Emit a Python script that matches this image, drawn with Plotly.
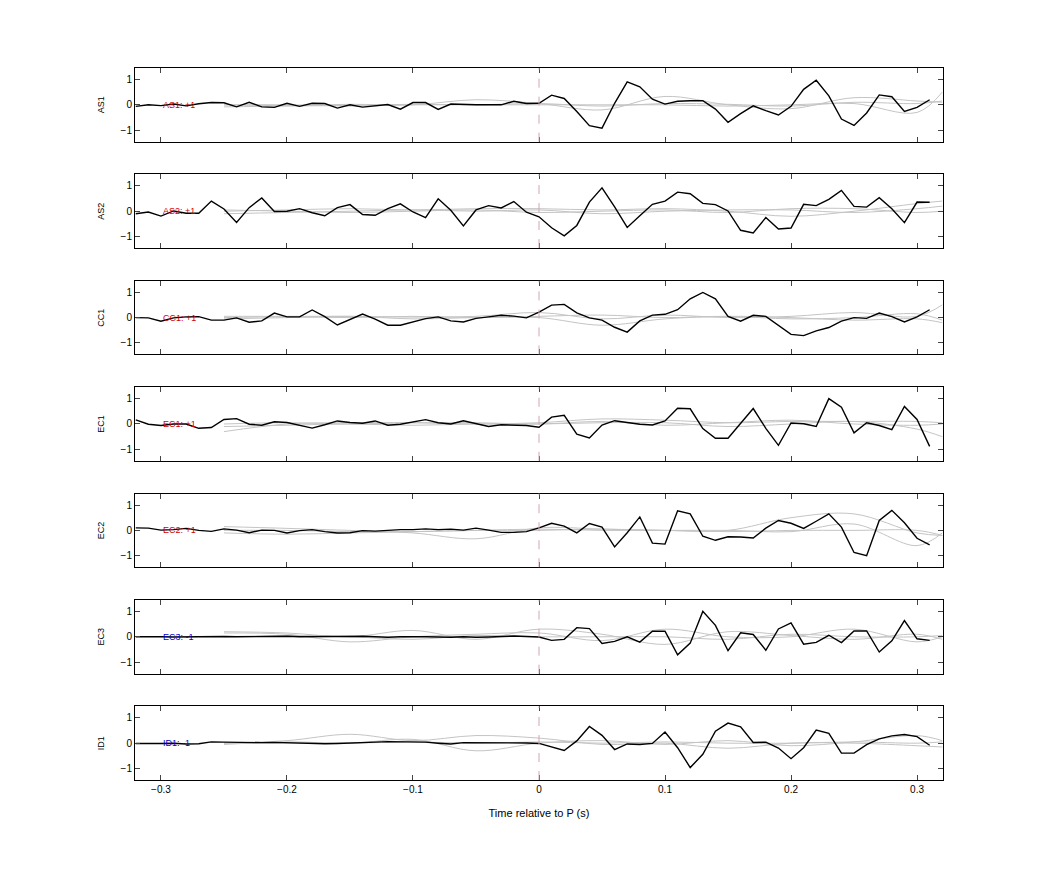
import numpy as np
import plotly.graph_objects as go
from plotly.subplots import make_subplots

t = [round(-0.32 + 0.01 * i, 2) for i in range(64)]
tg = [-0.25, -0.2, -0.15, -0.1, -0.05, 0, 0.05, 0.1, 0.15, 0.2, 0.25, 0.3, 0.32]

names = ["AS1", "AS2", "CC1", "EC1", "EC2", "EC3", "ID1"]
labels = ["AS1: +1", "AS2: +1", "CC1: +1", "EC1: +1", "EC2: +1", "EC3: -1", "ID1: -1"]
label_colors = ["#d00000", "#d00000", "#d00000", "#d00000", "#d00000", "#0000d0", "#0000d0"]

AS1 = [-0.06,0,-0.03,0.03,-0.04,0.04,0.09,0.08,-0.08,0.1,-0.08,-0.1,0.06,-0.06,0.06,0.05,
       -0.13,0,-0.09,-0.04,0.01,-0.17,0.09,0.09,-0.18,0.03,0.01,0,0,0,0.14,0.05,
       0.06,0.38,0.25,-0.26,-0.82,-0.92,0.06,0.9,0.71,0.22,0.03,0.14,0.16,0.16,-0.17,-0.69,
       -0.35,-0.04,-0.23,-0.4,-0.06,0.61,0.97,0.35,-0.56,-0.81,-0.32,0.39,0.32,-0.26,-0.1,0.2]
AS2 = [-0.1,-0.03,-0.19,0.01,-0.08,-0.08,0.4,0.09,-0.44,0.14,0.52,-0.01,0,0.1,-0.06,-0.18,
       0.14,0.26,-0.13,-0.16,0.1,0.29,-0.03,-0.25,0.49,0.04,-0.58,0.05,0.22,0.13,0.38,-0.04,
       -0.22,-0.65,-0.97,-0.56,0.36,0.92,0.17,-0.64,-0.18,0.27,0.4,0.75,0.69,0.31,0.26,0.01,
       -0.75,-0.86,-0.25,-0.7,-0.66,0.27,0.22,0.47,0.82,0.19,0.16,0.53,0.1,-0.45,0.36,0.35]
CC1 = [0,-0.01,-0.14,-0.01,0.03,0.04,-0.1,-0.1,-0.01,-0.18,-0.13,0.18,0.03,0.03,0.3,0.04,
       -0.29,-0.06,0.14,-0.06,-0.3,-0.3,-0.17,-0.04,0.03,-0.13,-0.17,-0.03,0.03,0.09,0.06,-0.01,
       0.22,0.49,0.52,0.19,-0.01,-0.1,-0.38,-0.57,-0.13,0.1,0.13,0.31,0.74,0.99,0.74,0.05,
       -0.14,0.09,0.05,-0.32,-0.66,-0.71,-0.52,-0.39,-0.14,0,-0.03,0.18,0.04,-0.17,0.03,0.31]
EC1 = [0.16,-0.01,-0.06,0,0,-0.17,-0.14,0.18,0.21,-0.01,-0.05,0.09,0.06,-0.06,-0.16,-0.03,
       0.12,0.06,0.03,0.12,-0.05,-0.01,0.09,0.17,0.05,0,0.13,0,-0.1,-0.03,-0.04,-0.06,
       -0.13,0.27,0.34,-0.4,-0.55,-0.04,0.13,0.05,-0.01,-0.04,0.12,0.62,0.6,-0.18,-0.56,-0.56,
       0.03,0.61,-0.17,-0.84,0.04,0.01,-0.1,1.0,0.66,-0.35,0.05,-0.06,-0.22,0.69,0.18,-0.88]
EC2 = [0.1,0.09,0.01,0.03,0.08,0,-0.04,0.06,0.01,-0.09,0.01,0,-0.1,-0.01,0.03,-0.05,
       -0.1,-0.09,-0.01,-0.03,0,0.03,0.03,0.06,0.03,0.05,0.01,0.09,0.01,-0.08,-0.08,-0.05,
       0.1,0.28,0.17,-0.1,0.27,0.13,-0.65,-0.09,0.53,-0.5,-0.54,0.77,0.65,-0.23,-0.39,-0.25,
       -0.26,-0.3,0.09,0.39,0.28,0.08,0.36,0.65,0.13,-0.87,-1.0,0.39,0.79,0.3,-0.31,-0.57]
EC3 = [0,0.01,0,-0.01,0,0.01,0.02,0.01,0,0.01,0.02,0.01,0.02,0,0.01,-0.01,
       0,0.01,0.02,0,-0.02,0,0.01,0,-0.01,-0.02,0,-0.02,-0.01,0.02,0.03,0.01,
       -0.01,-0.14,-0.1,0.36,0.32,-0.26,-0.18,0,-0.21,0.22,0.22,-0.71,-0.25,1.0,0.45,-0.55,
       0.16,0.09,-0.53,0.31,0.55,-0.29,-0.22,0.06,-0.23,0.23,0.23,-0.6,-0.16,0.64,-0.08,-0.14]
ID1 = [-0.01,-0.02,-0.01,0,-0.03,-0.02,0.05,0.04,0.03,0.03,0.02,0.03,0.02,0,-0.02,-0.02,
       -0.01,0,0.02,0.04,0.06,0.05,0.05,0.04,0,-0.03,0.02,0.02,0.01,0,0.01,0.01,
       -0.01,-0.16,-0.29,0.09,0.66,0.31,-0.25,-0.03,-0.05,-0.01,0.44,-0.18,-0.96,-0.44,0.47,0.79,
       0.64,0.03,0.04,-0.19,-0.61,-0.18,0.52,0.39,-0.39,-0.39,-0.06,0.17,0.29,0.34,0.26,-0.08]

AS1_grey = [[0,-0.03,0.02,0,0.2,0.05,-0.2,0.33,0.0,-0.15,0.28,0.15,0.1],
            [0,0,-0.05,0,0,0,0,0,-0.05,0,0.05,-0.3,0.5],
            [-0.08,-0.05,-0.02,0.02,0,0.05,-0.05,0.05,0.02,-0.05,0.1,0.05,0.15]]
AS2_grey = [[0,0.05,0.1,0.05,0.1,0.1,0.05,0.1,0,-0.2,0,0.3,0.4],
            [-0.1,-0.05,0,0.05,0,0.05,-0.1,0,0.05,0.05,-0.05,0.1,0.2],
            [0.05,0,-0.05,0,0.05,-0.05,0,0.05,-0.05,0.1,0.1,-0.05,0]]
CC1_grey = [[0.05,0.05,0.05,0.02,0.05,0.2,-0.05,0.1,0,0.05,0.2,0.05,0.5],
            [-0.05,0,0.05,-0.05,0,0,-0.3,-0.05,0.05,0,-0.1,-0.05,-0.2],
            [0,0.03,0,0.05,0,0.05,0.1,0,0.05,-0.05,0,0.15,-0.1]]
EC1_grey = [[-0.3,0,0.05,0.05,0,0.05,0.2,0.15,0.05,0.1,0.1,0.1,0.05],
            [-0.1,-0.05,0,-0.05,0,0,0.05,0.05,-0.1,0,0.1,-0.2,-0.5],
            [0,0.05,0,0.05,0.05,0,0.1,-0.05,0.05,0.15,0,-0.05,0]]
EC2_grey = [[0.15,0.08,0,-0.1,-0.33,0.1,0.05,0,0,0.5,0.65,-0.1,-0.2],
            [0,0,-0.05,-0.05,0,0.05,0,0,0,-0.05,0.25,-0.6,-0.1],
            [-0.1,-0.15,-0.1,-0.05,0,0,0.05,0,-0.05,0,0,0,-0.2]]
EC3_grey = [[0.2,0.15,0,0.25,-0.1,0.3,0.1,-0.3,0.2,0.05,-0.1,0.1,-0.1],
            [0.15,0.1,-0.2,0,0.1,0.15,-0.15,0.3,0,0,0.3,-0.2,0],
            [0,0.05,0,-0.1,0.05,0,0,0,-0.1,0.1,0,0,0.05]]
ID1_grey = [[0,0.1,0.35,0.1,0.3,0.2,-0.05,0,-0.2,0,0,-0.1,-0.15],
            [-0.05,0.05,0,0.15,-0.3,0,0.1,-0.05,0.1,-0.1,0.05,0.3,0.1],
            [0,0,0,0.05,0,0.05,0,0.05,0,0,0.05,0,0.05]]

series = [AS1, AS2, CC1, EC1, EC2, EC3, ID1]
greys = [AS1_grey, AS2_grey, CC1_grey, EC1_grey, EC2_grey, EC3_grey, ID1_grey]

fig = make_subplots(rows=7, cols=1, shared_xaxes=False, vertical_spacing=0.046)
for i in range(7):
    r = i + 1
    for g in greys[i]:
        fig.add_trace(go.Scatter(x=tg, y=g, mode="lines", line=dict(color="#c4c4c4", width=1, shape="spline"),
                                 showlegend=False, hoverinfo="skip"), row=r, col=1)
    fig.add_trace(go.Scatter(x=t, y=series[i], mode="lines", line=dict(color="black", width=1.4),
                             showlegend=False), row=r, col=1)
    fig.add_vline(x=0, line=dict(color="#d0a8a8", width=1, dash="dash"), row=r, col=1)
    fig.add_annotation(x=-0.3, y=0, text=labels[i], showarrow=False, xanchor="left",
                       font=dict(size=9, color=label_colors[i]), row=r, col=1)
    fig.update_yaxes(range=[-1.45, 1.45], tickvals=[-1, 0, 1], ticks="inside", ticklen=5,
                     mirror="ticks", showline=True, linecolor="black", linewidth=1, showgrid=False,
                     zeroline=False, title=dict(text=names[i], font=dict(size=9), standoff=14), row=r, col=1)
    fig.update_xaxes(range=[-0.3206, 0.3206], tickvals=[-0.3, -0.2, -0.1, 0, 0.1, 0.2, 0.3],
                     ticks="inside", ticklen=5, mirror="ticks", showline=True, linecolor="black",
                     linewidth=1, showgrid=False, zeroline=False, showticklabels=(r == 7), row=r, col=1)
fig.update_xaxes(title=dict(text="Time relative to P (s)", font=dict(size=11)), row=7, col=1)
fig.update_layout(width=1042, height=875, margin=dict(l=127, r=107, t=60, b=103),
                  plot_bgcolor="white", paper_bgcolor="white",
                  font=dict(family="Liberation Sans, Arial", size=10, color="black"))
fig.write_html("out.html")
